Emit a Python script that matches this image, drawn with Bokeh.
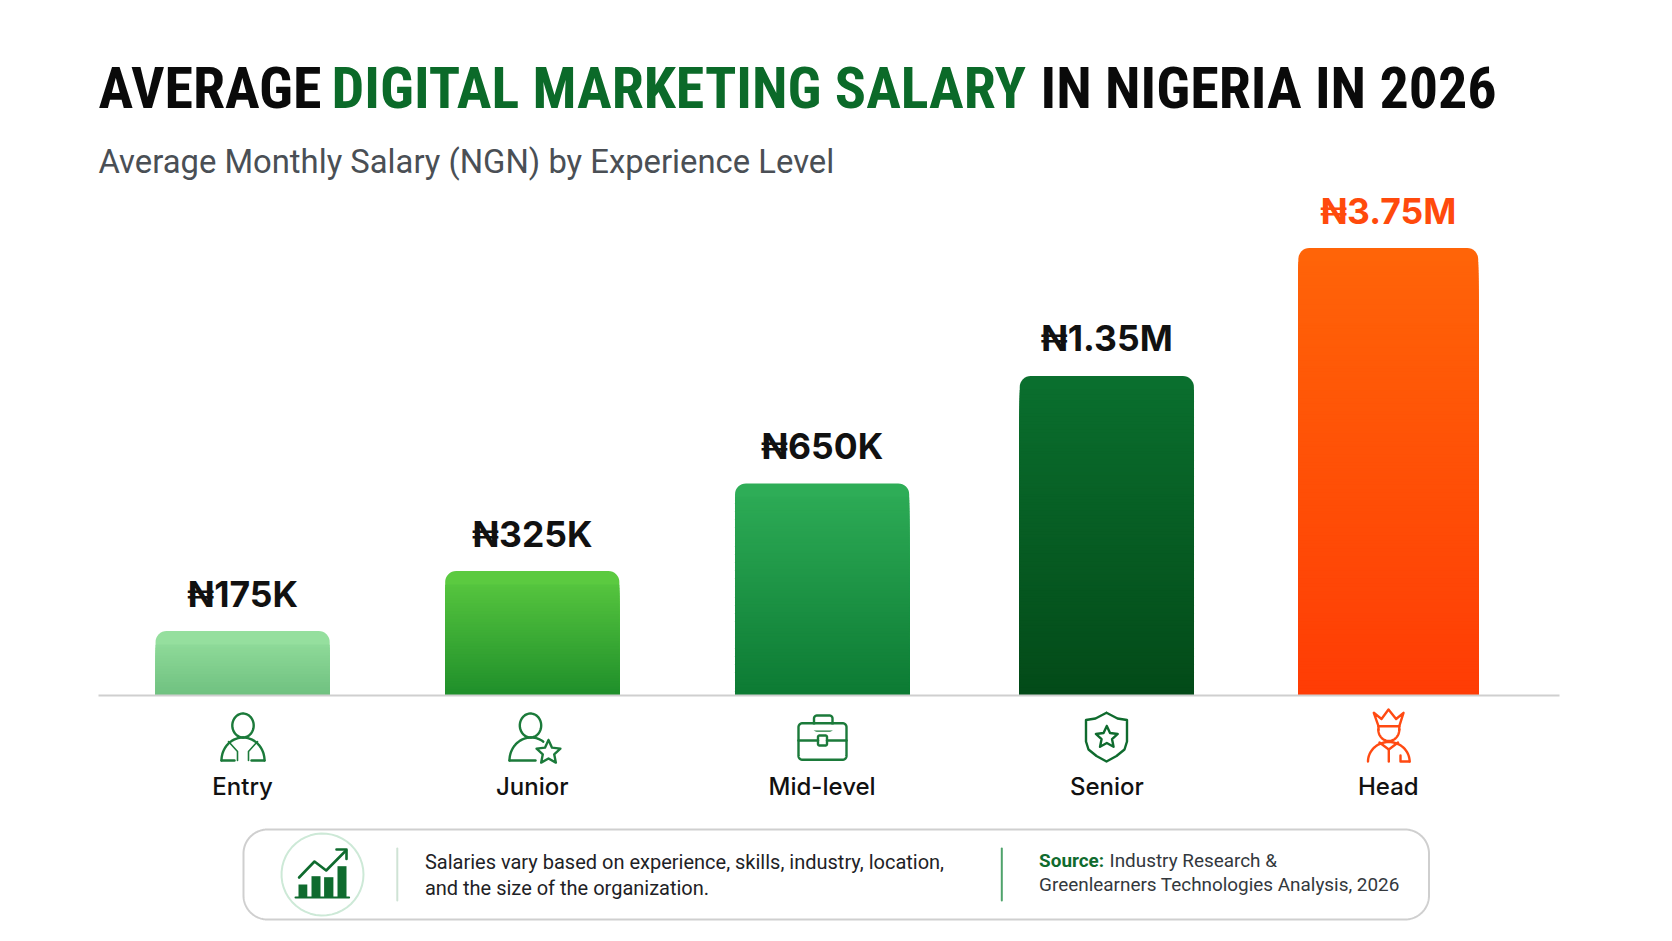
import numpy as np
from bokeh.core.properties import value
from bokeh.embed import file_html
from bokeh.models import ColumnDataSource, FactorRange, Range1d
from bokeh.plotting import figure
from bokeh.resources import INLINE

categories = ["Entry", "Junior", "Mid-level", "Senior", "Head"]
salary_labels = ["₦175K", "₦325K", "₦650K", "₦1.35M", "₦3.75M"]
# the bars in the picture are not to scale with their labels,
# so heights are read off directly, as % of the tallest bar
bar_heights = [14.4, 27.8, 47.4, 71.4, 100.0]

top_colors = ["#95DF9E", "#5BCA40", "#2EAD57", "#0A6F2E", "#FF6408"]
bottom_colors = ["#6EC07F", "#1E8E2A", "#0C7A33", "#034A18", "#FF3C05"]
label_colors = ["#111111", "#111111", "#111111", "#111111", "#FF4A0C"]
icon_colors = ["#1B7A3A", "#1B7A3A", "#1B7A3A", "#0F6B2E", "#FF4A12"]
# small shifts of each category from the even spacing, in factor units
nudges = [-0.0105, 0.0007, 0.0126, 0.0066, -0.0108]
bar_widths = [0.608, 0.608, 0.608, 0.608, 0.628]

BASE_Y = 695      # page y of the zero line
PX_PER_UNIT = 4.475
PAD = 0.3
FONT = value("Roboto")
GREEN = "#0F6B2E"

x_keys = [(c, n) for c, n in zip(categories, nudges)]

p = figure(width=1656, height=925, output_backend="svg", toolbar_location=None,
           x_range=FactorRange(factors=categories, factor_padding=0, range_padding=PAD,
                               range_padding_units="absolute"),
           y_range=Range1d((BASE_Y - 925) / PX_PER_UNIT, BASE_Y / PX_PER_UNIT),
           x_axis_location=None, y_axis_location=None,
           min_border=0, min_border_right=36, min_border_left=16, min_border_top=0, min_border_bottom=0)
p.outline_line_color = None
p.grid.visible = False
p.background_fill_color = "white"
p.border_fill_color = "white"
# page pixel scale for the furniture around the chart: y gets an extra range,
# x has to stay on the factor scale so page x is converted to its numbers
p.extra_y_ranges = {"px": Range1d(925, 0)}
PX = dict(y_range_name="px")


def X(px):
    return -PAD + (np.asarray(px, dtype=float) - 16) * (5 + 2 * PAD) / 1604


def mix(c1, c2, t):
    a = [int(c1[i:i + 2], 16) for i in (1, 3, 5)]
    b = [int(c2[i:i + 2], 16) for i in (1, 3, 5)]
    return "#%02x%02x%02x" % tuple(int(round(u + (v - u) * t)) for u, v in zip(a, b))


# bars: rounded top, then painted gradient bands from the top down
p.vbar(x=x_keys, top=bar_heights, bottom=0, width=bar_widths, fill_color=top_colors,
       line_color=None, border_radius=(11, 11, 0, 0))
for key, h, w, c1, c2 in zip(x_keys, bar_heights, bar_widths, top_colors, bottom_colors):
    tops = np.arange(h, 0, -0.6)
    tops = tops[tops < h - 2.6]
    cols = [mix(c1, c2, 1 - t / h) for t in tops]
    p.vbar(x=[key] * len(tops), top=tops, bottom=0, width=w, fill_color=cols, line_color=None,
           border_radius=(1, 1, 0, 0))

p.line(X([98, 1559]), [BASE_Y, BASE_Y], line_color="#CFCFCF", line_width=2, **PX)

src = ColumnDataSource(dict(x=x_keys, y=bar_heights, label=salary_labels, color=label_colors))
p.text(x="x", y="y", text="label", source=src, text_color="color", text_font=value("Inter"),
       text_font_style="bold", text_font_size="35.5px", text_align="center",
       text_baseline="middle", y_offset=-37)
p.text(x=x_keys, y=[-91 / PX_PER_UNIT] * 5, text=categories, text_color="#111111",
       text_font=value("Inter Medium"), text_font_style="bold", text_font_size="24px", text_align="center",
       text_baseline="middle")


def put_text(x, y, txt, size, color="#111111", font=FONT, style="normal"):
    p.text(x=[float(X(x))], y=[y], text=[txt], text_color=color, text_font=font, text_font_style=style,
           text_font_size=size, text_baseline="middle", **PX)


# title and subtitle
TITLE_FONT = value("Roboto Condensed")
put_text(98, 87, "AVERAGE", "58px", "#0A0A0A", TITLE_FONT, "bold")
put_text(331, 87, "DIGITAL MARKETING SALARY", "58px", "#0B6A29", TITLE_FONT, "bold")
put_text(1040, 87, "IN NIGERIA IN 2026", "58px", "#0A0A0A", TITLE_FONT, "bold")
put_text(98, 161, "Average Monthly Salary (NGN) by Experience Level", "32.8px", "#4A4F55")


def stroke(xs, ys, color, width=2.4):
    p.line(X(xs), ys, line_color=color, line_width=width, line_join="round", line_cap="round", **PX)


def ellipse_pts(cx, cy, rx, ry, a0=0, a1=360):
    t = np.radians(np.linspace(a0, a1, 48))
    return cx + rx * np.cos(t), cy + ry * np.sin(t)


def round_rect(x0, y0, x1, y1, r):
    xs, ys = [], []
    for cx, cy, a in [(x1 - r, y0 + r, -90), (x1 - r, y1 - r, 0), (x0 + r, y1 - r, 90), (x0 + r, y0 + r, 180)]:
        ax, ay = ellipse_pts(cx, cy, r, r, a, a + 90)
        xs += list(ax)
        ys += list(ay)
    return xs + xs[:1], ys + ys[:1]


def star_pts(cx, cy, r):
    t = np.radians(np.arange(11) * 36 - 90)
    rad = np.where(np.arange(11) % 2 == 0, r, r * 0.48)
    return cx + rad * np.cos(t), cy + rad * np.sin(t)


# icons under the bars
c = icon_colors[0]
stroke(*ellipse_pts(242.5, 725, 10.7, 12), c)
ax, ay = ellipse_pts(242.5, 760, 21.5, 23, 180, 360)
stroke(ax, ay, c)
stroke([221, 234], [760, 760], c)
stroke([251, 264], [760, 760], c)
stroke([228, 237, 237], [741, 751, 760], c, 1.6)
stroke([257, 248, 248], [741, 751, 760], c, 1.6)

c = icon_colors[1]
stroke(*ellipse_pts(530, 725, 10.7, 12), c)
ax, ay = ellipse_pts(530.5, 760, 21.5, 23, 180, 305)
stroke(ax, ay, c)
stroke([509, 535], [760, 760], c)
stroke(*star_pts(548, 752, 12.5), c)

c = icon_colors[2]
stroke(*round_rect(813.5, 715, 832, 730, 3), c)
p.quad(left=X([800]), right=X([844]), top=[724], bottom=[730], fill_color="white", line_color=None, **PX)
stroke(*round_rect(798, 722.7, 846, 759.3, 4), c)
stroke([798, 817.5], [740, 740], c)
stroke([826.5, 846], [740, 740], c)
stroke(*round_rect(817.5, 735, 826.5, 745, 1.5), c)

c = icon_colors[3]
stroke([1106, 1117, 1126.5, 1126.5, 1124, 1116, 1106, 1096, 1088, 1085.5, 1085.5, 1095, 1106],
       [712.3, 718, 719.5, 741, 749, 755.5, 761, 755.5, 749, 741, 719.5, 718, 712.3], c)
stroke(*star_pts(1106.3, 737, 11.5), c)

c = icon_colors[4]
stroke([1378, 1373.3, 1381, 1388, 1395.6, 1403, 1398.8, 1378], [725.7, 712.3, 718.5, 709, 718.5, 712.3, 725.7, 725.7], c)
ax, ay = ellipse_pts(1388.3, 729, 10.5, 11.5, 0, 180)
stroke(ax, ay, c)
stroke([1378, 1378], [725.7, 729], c)
stroke([1398.8, 1398.8], [725.7, 729], c)
ax, ay = ellipse_pts(1388.3, 761, 20.8, 19.5, 180, 360)
stroke(ax, ay, c)
stroke([1379, 1388.3, 1397.5], [742, 749, 742], c)
stroke([1388.3, 1388.3], [749, 761], c)
stroke([1400, 1400, 1409], [755, 761, 761], c)

# note box at the bottom
xs, ys = round_rect(243, 829, 1428.5, 919, 24)
stroke(xs, ys, "#CFCFCF", 2)
stroke(*ellipse_pts(322, 874, 41, 41), "#CDE9D7", 2)
p.quad(left=X([298, 311, 323.6, 337]), right=X([306.8, 320, 332.9, 346]), top=[884, 875.7, 876.7, 865.7],
       bottom=[897, 897, 897, 897], fill_color=GREEN, line_color=None, **PX)
stroke([295, 348.6], [897, 897], GREEN, 2)
stroke([298.6, 314, 325.7, 345.5], [877, 861, 870, 850], GREEN, 2.6)
stroke([336, 346, 346], [849, 849, 858.5], GREEN, 2.6)
stroke([396.8, 396.8], [848, 900], "#CFE3D5", 2)
stroke([1001.3, 1001.3], [848, 900], "#4FA36B", 2)

put_text(424.4, 861, "Salaries vary based on experience, skills, industry, location,", "20px", "#1E2226")
put_text(424.4, 887, "and the size of the organization.", "20px", "#1E2226")
put_text(1038.6, 860, "Source:", "18.9px", GREEN, FONT, "bold")
put_text(1109, 860, "Industry Research &", "18.9px", "#33383D")
put_text(1038.6, 884, "Greenlearners Technologies Analysis, 2026", "18.9px", "#33383D")

open("out.html", "w").write(file_html(p, INLINE))
